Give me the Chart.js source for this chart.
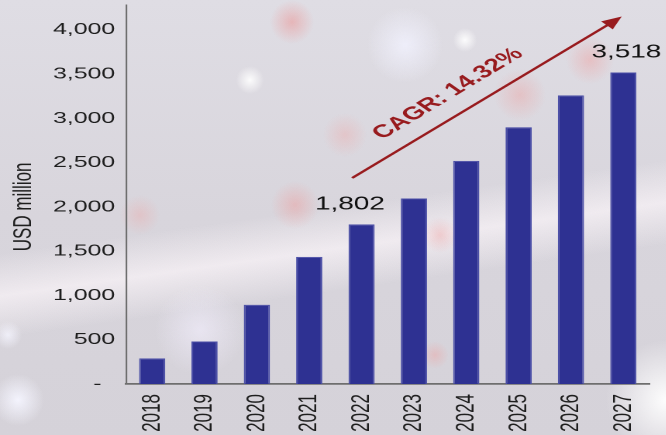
<!DOCTYPE html>
<html>
<head>
<meta charset="utf-8">
<script src="https://cdn.jsdelivr.net/npm/chart.js@4/dist/chart.umd.min.js"></script>
<style>
  html, body { margin: 0; padding: 0; }
  body {
    width: 666px;
    height: 435px;
    overflow: hidden;
    background:
      radial-gradient(circle at 292px 22px, rgba(236,150,150,0.55), rgba(236,150,150,0) 22px),
      radial-gradient(circle at 250px 80px, rgba(255,255,255,0.9), rgba(255,255,255,0) 14px),
      radial-gradient(circle at 405px 45px, rgba(240,240,252,0.9), rgba(240,240,252,0) 38px),
      radial-gradient(circle at 465px 40px, rgba(255,255,255,0.9), rgba(255,255,255,0) 12px),
      radial-gradient(circle at 520px 95px, rgba(235,170,170,0.5), rgba(235,170,170,0) 26px),
      radial-gradient(circle at 590px 60px, rgba(238,165,165,0.5), rgba(238,165,165,0) 24px),
      radial-gradient(circle at 345px 135px, rgba(236,175,175,0.45), rgba(236,175,175,0) 22px),
      radial-gradient(circle at 295px 205px, rgba(236,160,160,0.5), rgba(236,160,160,0) 24px),
      radial-gradient(circle at 140px 215px, rgba(236,170,170,0.4), rgba(236,170,170,0) 20px),
      radial-gradient(circle at 440px 235px, rgba(236,165,165,0.45), rgba(236,165,165,0) 18px),
      radial-gradient(circle at 435px 355px, rgba(236,170,170,0.5), rgba(236,170,170,0) 14px),
      radial-gradient(circle at 18px 400px, rgba(245,245,255,0.95), rgba(245,245,255,0) 26px),
      radial-gradient(circle at 8px 335px, rgba(245,245,255,0.8), rgba(245,245,255,0) 14px),
      radial-gradient(circle at 666px 400px, rgba(255,255,255,0.95), rgba(255,255,255,0) 60px),
      radial-gradient(circle at 200px 330px, rgba(240,236,250,0.7), rgba(240,236,250,0) 45px),
      linear-gradient(172deg, rgba(255,255,255,0) 48%, rgba(250,244,248,0.7) 56%, rgba(255,255,255,0) 64%),
      linear-gradient(180deg, #dfdde4 0%, #d8d5dc 50%, #d5d2d9 100%);
  }
  #wrap {
    position: absolute;
    left: 0;
    top: 0;
    width: 430px;
    height: 435px;
    transform: scaleX(1.55);
    transform-origin: 0 0;
  }
</style>
</head>
<body>
<div id="wrap"><canvas id="myChart"></canvas></div>
<script>
const years = ["2018", "2019", "2020", "2021", "2022", "2023", "2024", "2025", "2026", "2027"];
const marketSize = [290, 480, 895, 1435, 1802, 2095, 2520, 2900, 3260, 3518];
const yTickValues = [0, 500, 1000, 1500, 2000, 2500, 3000, 3500, 4000];
const labeledYears = ["2022", "2027"];
const axisTitle = "USD million";
const cagrText = "CAGR: 14.32%";

const FONT = "'Liberation Sans', Arial, sans-serif";
const fmt = (v) => v.toLocaleString("en-US");

// annotations drawn on top: y title, value labels, CAGR arrow
const annotations = {
  id: "annotations",
  afterDatasetsDraw(chart) {
    const c = chart.ctx;
    const x = chart.scales.x;
    const y = chart.scales.y;
    const area = chart.chartArea;
    c.save();

    // axis title
    c.save();
    c.translate(area.left - 66, y.getPixelForValue(2000));
    c.rotate(-Math.PI / 2);
    c.fillStyle = "#1e1e1e";
    c.font = "17px " + FONT;
    c.textAlign = "center";
    c.textBaseline = "middle";
    c.fillText(axisTitle, 0, 0);
    c.restore();

    // value labels over chosen bars
    const meta = chart.getDatasetMeta(0);
    c.fillStyle = "#111";
    c.font = "18px " + FONT;
    c.textAlign = "center";
    c.textBaseline = "bottom";
    labeledYears.forEach((yr) => {
      const i = years.indexOf(yr);
      const bar = meta.data[i];
      const shift = i === 4 ? -7.5 : 2;
      c.fillText(fmt(marketSize[i]), bar.x + shift, bar.y - 11);
    });

    // CAGR arrow
    const x0 = x.getPixelForValue(3.82), y0 = y.getPixelForValue(2326);
    const x1 = x.getPixelForValue(8.97), y1 = y.getPixelForValue(4150);
    const ang = Math.atan2(y1 - y0, x1 - x0);
    const red = "#981b1e";
    const head = 13;
    c.strokeStyle = red;
    c.fillStyle = red;
    c.lineWidth = 2;
    c.beginPath();
    c.moveTo(x0, y0);
    c.lineTo(x1 - head * 0.8 * Math.cos(ang), y1 - head * 0.8 * Math.sin(ang));
    c.stroke();
    c.beginPath();
    c.moveTo(x1, y1);
    c.lineTo(x1 - head * Math.cos(ang) + 5.5 * Math.sin(ang), y1 - head * Math.sin(ang) - 5.5 * Math.cos(ang));
    c.lineTo(x1 - head * Math.cos(ang) - 5.5 * Math.sin(ang), y1 - head * Math.sin(ang) + 5.5 * Math.cos(ang));
    c.closePath();
    c.fill();

    c.save();
    c.translate(x.getPixelForValue(5.65), y.getPixelForValue(3278));
    c.rotate(ang);
    c.font = "bold 18px " + FONT;
    c.textAlign = "center";
    c.textBaseline = "middle";
    c.fillText(cagrText, 0, 0);
    c.restore();

    c.restore();
  },
};

const ctx = document.getElementById("myChart");
new Chart(ctx, {
  type: "bar",
  data: {
    labels: years,
    datasets: [
      {
        data: marketSize,
        backgroundColor: "#2e3192",
        borderColor: "#4a4ea6",
        borderWidth: 1,
        categoryPercentage: 1,
        barPercentage: 0.5,
      },
    ],
  },
  options: {
    responsive: true,
    maintainAspectRatio: false,
    animation: false,
    devicePixelRatio: 2,
    layout: { padding: { top: 5, right: 11, left: 0, bottom: 0 } },
    plugins: {
      legend: { display: false },
      tooltip: { enabled: false },
    },
    scales: {
      x: {
        afterFit(scale) {
          scale.height = 51;
          scale.paddingLeft = 0;
          scale.paddingRight = 0;
        },
        grid: { display: false, drawTicks: false },
        border: { display: true, color: "#6e6e6e", width: 1.8 },
        ticks: {
          color: "#1e1e1e",
          font: { family: FONT, size: 17 },
          maxRotation: 90,
          minRotation: 90,
          padding: 10,
        },
      },
      y: {
        min: 0,
        max: 4280,
        afterFit(scale) {
          scale.width = 81.3;
          scale.paddingTop = 0;
          scale.paddingBottom = 0;
        },
        afterBuildTicks(scale) {
          scale.ticks = yTickValues.map((v) => ({ value: v }));
        },
        grid: { display: false, drawTicks: false },
        border: { display: true, color: "#6e6e6e", width: 1.1 },
        ticks: {
          color: "#1e1e1e",
          font: { family: FONT, size: 16 },
          padding: 7,
          callback: (v) => (v === 0 ? "-  " : fmt(v)),
        },
      },
    },
  },
  plugins: [annotations],
});
</script>
</body>
</html>
